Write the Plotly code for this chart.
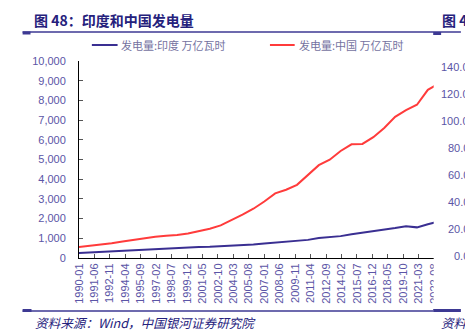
import plotly.graph_objects as go

# Annual electricity generation, unit: 万亿瓦时 (TWh), year-end dated
years = list(range(1989, 2023))
india = [255, 285, 310, 330, 355, 385, 415, 440, 465, 495, 525, 555, 570, 590,
         625, 655, 685, 730, 780, 815, 870, 920, 1010, 1055, 1110, 1210, 1280,
         1360, 1430, 1520, 1610, 1555, 1715, 1855]
china = [560, 621, 678, 754, 839, 928, 1008, 1081, 1134, 1167, 1239, 1356, 1484,
         1654, 1911, 2203, 2500, 2866, 3282, 3467, 3715, 4207, 4713, 4988, 5432,
         5770, 5790, 6133, 6604, 7166, 7503, 7779, 8534, 8849]
dates = [f"{y}-12-31" for y in years]

series_names = ["发电量:印度 万亿瓦时", "发电量:中国 万亿瓦时"]
series_colors = ["#3a2f92", "#ff3b3b"]

# Right-hand axis labels of the adjoining figure
neighbor_ticks = ["140.0", "120.0", "100.0", "80.0", "60.0", "40.0", "20.0", "0.0"]
neighbor_tick_y = [67, 94, 121, 148, 175, 202, 229, 256]

W, H = 465, 331
L, R, T, B = 79, 455, 61, 258

def px(x):
    return (x - L) / (R - L)

def py(y):
    return (B - y) / (B - T)

NAVY = "#25217c"
TICK = "#5b55a6"
LEG = "#74729f"
CJK = "Noto Sans CJK SC"
LAT = "Liberation Sans, Arial, sans-serif"

fig = go.Figure()
for name, vals, col in zip(series_names, [india, china], series_colors):
    fig.add_trace(go.Scatter(x=dates, y=vals, name=name, mode="lines",
                             line=dict(color=col, width=2), showlegend=False))

shapes = []
annotations = []

def hline(x0, x1, y, color, width):
    shapes.append(dict(type="line", xref="paper", yref="paper",
                       x0=px(x0), x1=px(x1), y0=py(y), y1=py(y),
                       line=dict(color=color, width=width), layer="above"))

def text(x, y, s, size, color, xanchor="left", bold=False, italic=False, family=CJK):
    annotations.append(dict(xref="paper", yref="paper", x=px(x), y=py(y), text=s,
                            showarrow=False, xanchor=xanchor, yanchor="middle",
                            font=dict(family=family, size=size, color=color,
                                      weight="bold" if bold else "normal",
                                      style="italic" if italic else "normal")))

# cover for the adjoining figure on the right
shapes.append(dict(type="rect", xref="paper", yref="paper",
                   x0=px(437.5), x1=px(470), y0=py(309), y1=py(36),
                   fillcolor="white", line=dict(width=0), layer="above"))

# title and source rules
hline(22, 465, 32, "#3d3993", 1.5)
hline(22, 30, 33, "#3d3993", 3)
hline(437, 445, 33.5, "#3d3993", 3)
hline(22, 437, 311, "#3d3993", 1.5)
hline(22, 31, 310.5, "#3d3993", 3)
hline(437, 465, 310.5, "#3d3993", 3)

# legend
hline(92, 118, 45, series_colors[0], 2)
hline(272, 297, 45, series_colors[1], 2)
text(119, 45, series_names[0], 11, LEG)
text(299, 45, series_names[1], 11, LEG)

# title and source
text(31, 20, "图 48：印度和中国发电量", 14, NAVY, bold=True)
text(32, 322, "资料来源：Wind，中国银河证券研究院", 12.6, NAVY, italic=True)

# adjoining figure fragments
text(444, 20, "图 4", 14, NAVY, bold=True)
text(443, 322, "资料", 12.6, NAVY, italic=True)
for lab, yy in zip(neighbor_ticks, neighbor_tick_y):
    text(475, yy, lab, 11, TICK, xanchor="right", family=LAT)

fig.update_layout(
    width=W, height=H,
    margin=dict(l=L, r=W - R, t=T, b=H - B, pad=0),
    paper_bgcolor="white", plot_bgcolor="white",
    shapes=shapes, annotations=annotations,
    showlegend=False,
    xaxis=dict(type="date", range=["1990-01-01", "2024-02-15"],
               tick0="1990-01-01", dtick="M17", tickformat="%Y-%m",
               tickangle=-90, ticks="inside", ticklen=4, tickcolor="#555555",
               showline=True, linecolor="black", linewidth=1,
               showgrid=False, zeroline=False,
               tickfont=dict(family=LAT, size=11, color=TICK)),
    yaxis=dict(range=[0, 10000], dtick=1000, tickformat=",d",
               ticks="inside", ticklen=4, tickcolor="#555555",
               showline=True, linecolor="black", linewidth=1,
               showgrid=False, zeroline=False, ticklabelstandoff=10,
               tickfont=dict(family=LAT, size=11, color=TICK)),
)

fig.write_html("out.html")
